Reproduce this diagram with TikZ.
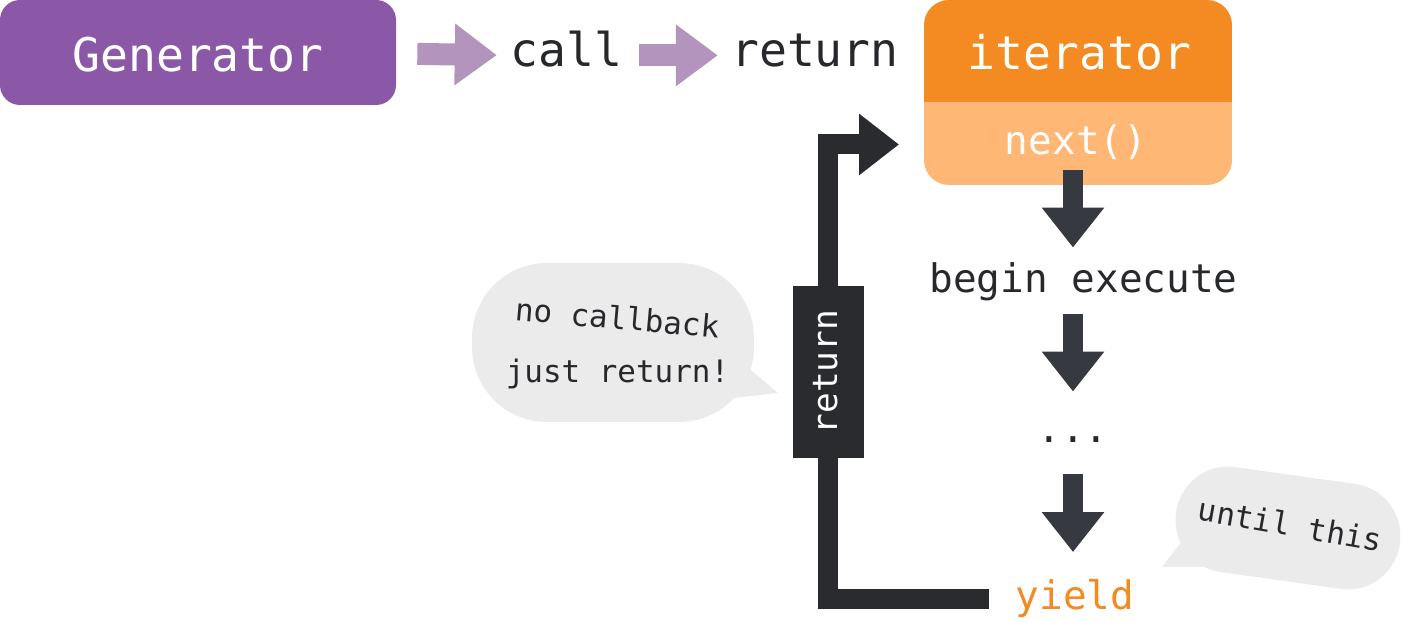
\documentclass[tikz,border=0pt]{standalone}
\usepackage{fontspec}
\usepackage{tikz}
\usetikzlibrary{arrows.meta}
\setmonofont{DejaVu Sans Mono}

\definecolor{genpurple}{HTML}{8A58A7}
\definecolor{arrowpurple}{HTML}{B394BD}
\definecolor{itorange}{HTML}{F38A22}
\definecolor{nxtorange}{HTML}{FEB775}
\definecolor{stepgray}{HTML}{363940}
\definecolor{retdark}{HTML}{2A2B2F}
\definecolor{bubblegray}{HTML}{EBEBEB}
\definecolor{textdark}{HTML}{26282C}

\newcommand{\fbig}{\ttfamily\fontsize{26.4}{30}\selectfont}
\newcommand{\fmid}{\ttfamily\fontsize{22.4}{26}\selectfont}
\newcommand{\fret}{\ttfamily\fontsize{19.6}{23}\selectfont}
\newcommand{\fnote}{\ttfamily\fontsize{17.6}{20}\selectfont}

\begin{document}
\begin{tikzpicture}[scale=0.2]
    \tikzstyle{every node}+=[inner sep=0pt]
    \tikzstyle{bigtxt}=[font=\fbig, text height=19.8pt, text depth=5.8pt]
    \tikzstyle{midtxt}=[font=\fmid, text height=16.8pt, text depth=4.93pt]
    \tikzstyle{note}=[font=\fnote, text=textdark, text height=13.2pt, text depth=3.9pt]
    \tikzstyle{retlabel}=[font=\fret, text=white, fill=retdark, rotate=90, text height=14.7pt, text depth=4.3pt, minimum width=3.44cm, minimum height=1.42cm]
    \tikzstyle{purplearrow}=[arrowpurple, line width=0.44cm, -{Triangle[length=0.84cm, width=1.18cm]}]
    \tikzstyle{downarrow}=[stepgray, line width=0.4cm, -{Triangle[length=0.8cm, width=1.2cm]}]
    \tikzstyle{backarrow}=[retdark, line width=0.4cm, line join=miter, -{Triangle[length=0.8cm, width=1.18cm]}]
    \useasboundingbox (0,0) rectangle (140.4,-62.2);
    % speech bubbles
    \fill [bubblegray, rounded corners=1.5cm] (47.2,-26.3) rectangle (75.4,-42.2);
    \fill [bubblegray] (74.5,-36.5) -- (77.8,-39.3) -- (72.5,-39.9) -- cycle;
    \fill [bubblegray, rounded corners=1.05cm, rotate around={-8:(128.8,-52.8)}] (117.5,-47.5) rectangle (140.1,-58.1);
    \fill [bubblegray] (118.6,-53.6) -- (116.2,-56.7) -- (120.8,-56.7) -- cycle;
    % iterator box
    \begin{scope}
    \clip [rounded corners=0.5cm] (92.4,0) rectangle (123.2,-18.5);
    \fill [itorange] (92.4,0) rectangle (123.2,-10.2);
    \fill [nxtorange] (92.4,-10.2) rectangle (123.2,-18.5);
    \end{scope}
    \node [bigtxt, fill=genpurple, text=white, rounded corners=0.4cm, minimum width=7.92cm, minimum height=2.1cm] (gen) at (19.8,-5.25) {\raisebox{-0.144cm}{Generator}};
    \node [bigtxt, text=textdark] (call) at (56.65,-5.47) {call};
    \node [bigtxt, text=textdark] (ret) at (81.5,-5.47) {return};
    \node [bigtxt, text=white] (iter) at (107.95,-5.77) {iterator};
    \node [midtxt, text=white] (nxt) at (107.6,-14.45) {next()};
    \node [midtxt, text=textdark] (begin) at (108.35,-28.25) {begin execute};
    \node [midtxt, text=textdark] (dots) at (107.3,-43.2) {...};
    \node [midtxt, text=itorange] (yield) at (107.5,-59.95) {yield};
    \draw [purplearrow, shorten <=0.42cm, shorten >=0.27cm] ([yshift=-0.11cm]gen.east) -- ([yshift=-0.066cm]call.west);
    \draw [purplearrow, shorten <=0.33cm, shorten >=0.26cm] ([yshift=-0.066cm]call.east) -- ([yshift=-0.066cm]ret.west);
    \draw [downarrow, shorten <=0.13cm, shorten >=0.31cm] (nxt.south -| dots) -- (begin.north -| dots);
    \draw [downarrow, shorten <=0.25cm, shorten >=0.42cm] (begin.south -| dots) -- (dots.north);
    \draw [downarrow, shorten <=0.46cm, shorten >=0.56cm] (dots.south) -- (yield.north -| dots);
    \draw [backarrow, shorten <=0.53cm, shorten >=2.11cm] ([yshift=0.09cm]yield.west) -- ++(-18.7,0) |- (nxt.west);
    \node [retlabel] (retlbl) at (82.8,-37.2) {return};
    \node [note, rotate=-5] (nocb) at (61.7,-32.1) {no callback};
    \node [note] (just) at (61.75,-37.4) {just return!};
    \node [note, rotate=-10] (until) at (129,-52.8) {until this};
\end{tikzpicture}
\end{document}
